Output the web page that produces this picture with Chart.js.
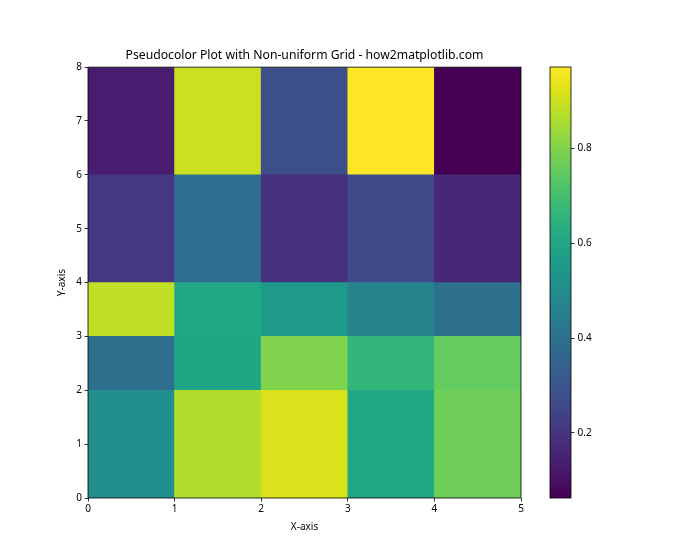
<!DOCTYPE html>
<html><head><meta charset="utf-8">
<script src="https://cdn.jsdelivr.net/npm/chart.js@4/dist/chart.umd.min.js"></script>
<style>
html,body{margin:0;padding:0;background:#fff}
#wrap{position:relative;width:700px;height:560px}
canvas{position:absolute;left:0;top:0}
</style>
</head><body>
<div id="wrap"><canvas id="main" width="700" height="560"></canvas><canvas id="cbar" width="700" height="560"></canvas></div>
<script>
// Grid edges (non-uniform in y)
const xEdges = [0, 1, 2, 3, 4, 5];
const yEdges = [0, 2, 3, 4, 6, 8];
// Cell values, one array per row, bottom row first
const row0 = [0.512, 0.866, 0.917, 0.608, 0.771]; // y 0-2
const row1 = [0.394, 0.599, 0.798, 0.662, 0.753]; // y 2-3
const row2 = [0.885, 0.608, 0.553, 0.467, 0.399]; // y 3-4
const row3 = [0.208, 0.390, 0.190, 0.263, 0.163]; // y 4-6
const row4 = [0.136, 0.898, 0.281, 0.971, 0.063]; // y 6-8
const rows = [row0, row1, row2, row3, row4];
const xTicks = [0, 1, 2, 3, 4, 5];
const yTicks = [0, 1, 2, 3, 4, 5, 6, 7, 8];
const cbTicks = [0.2, 0.4, 0.6, 0.8];
const titleText = 'Pseudocolor Plot with Non-uniform Grid - how2matplotlib.com';
const xLabel = 'X-axis';
const yLabel = 'Y-axis';

// viridis colormap stops
const VIR = ['#440154','#471365','#482475','#463480','#414487','#3b528b','#355f8d','#2f6c8e','#2a788e','#25848e','#21918c','#1e9c89','#22a884','#2fb47c','#44bf70','#5ec962','#7ad151','#9bd93c','#bddf26','#dfe318','#fde725'];
function hex(h){return [parseInt(h.substr(1,2),16),parseInt(h.substr(3,2),16),parseInt(h.substr(5,2),16)];}
function viridis(t){
  t = Math.max(0, Math.min(1, t));
  const p = t * (VIR.length - 1), i = Math.min(VIR.length - 2, Math.floor(p)), f = p - i;
  const a = hex(VIR[i]), b = hex(VIR[i+1]);
  return 'rgb(' + a.map((v,k)=>Math.round(v + (b[k]-v)*f)).join(',') + ')';
}
const all = rows.flat();
const vmin = Math.min(...all), vmax = Math.max(...all);
const norm = v => (v - vmin) / (vmax - vmin);

const FONT = "'Noto Sans', sans-serif";
Chart.defaults.font.family = FONT;
Chart.defaults.font.size = 10;
Chart.defaults.color = '#000';

const frame = {
  id: 'frame',
  afterDraw(chart){
    const a = chart.chartArea, c = chart.ctx;
    c.save(); c.strokeStyle = '#000'; c.lineWidth = 0.8;
    c.strokeRect(a.left, a.top, a.right - a.left, a.bottom - a.top);
    c.restore();
  }
};

const centers = xEdges.slice(0, -1).map((e, i) => (e + xEdges[i+1]) / 2);
const datasets = rows.map((r, ri) => ({
  data: r.map((v, ci) => ({x: centers[ci], y: [yEdges[ri], yEdges[ri+1]]})),
  backgroundColor: r.map(v => viridis(norm(v))),
  borderWidth: 0,
  grouped: false,
  barPercentage: 1,
  categoryPercentage: 1
}));

const tickGrid = {drawOnChartArea: false, drawTicks: true, tickLength: 3.5, color: '#000', lineWidth: 0.8};

new Chart(document.getElementById('main'), {
  type: 'bar',
  data: {datasets},
  options: {
    responsive: false, animation: false, events: [],
    layout: {padding: {left: 0, right: 179, top: 0, bottom: 0}},
    plugins: {
      legend: {display: false}, tooltip: {enabled: false},
      title: {display: true, text: titleText, fullSize: false, color: '#000',
        font: {size: 12.2, weight: 'normal', family: FONT, lineHeight: 1.2},
        padding: {top: 48.5, bottom: 4}}
    },
    scales: {
      x: {type: 'linear', min: xEdges[0], max: xEdges[xEdges.length-1], offset: false,
        grid: Object.assign({offset: false}, tickGrid), border: {display: false},
        afterBuildTicks: s => { s.ticks = xTicks.map(v => ({value: v})); },
        afterFit: s => { s.height = 62; },
        ticks: {padding: 1.5, maxRotation: 0, callback: v => String(v)},
        title: {display: true, text: xLabel, padding: {top: 0, bottom: 27}}
      },
      y: {type: 'linear', min: yEdges[0], max: yEdges[yEdges.length-1],
        grid: tickGrid, border: {display: false},
        afterBuildTicks: s => { s.ticks = yTicks.map(v => ({value: v})); },
        afterFit: s => { s.width = 88; },
        ticks: {padding: 2.5, callback: v => String(v)},
        title: {display: true, text: yLabel, padding: {top: 56, bottom: 0}}
      }
    }
  },
  plugins: [frame]
});

new Chart(document.getElementById('cbar'), {
  type: 'bar',
  data: {labels: ['cb'], datasets: [{
    data: [[vmin, vmax]],
    borderWidth: 0, barPercentage: 1, categoryPercentage: 1,
    backgroundColor: (ctx) => {
      const ch = ctx.chart; if (!ch.chartArea) return '#888';
      const y0 = ch.scales.y.getPixelForValue(vmin), y1 = ch.scales.y.getPixelForValue(vmax);
      const g = ch.ctx.createLinearGradient(0, y0, 0, y1);
      VIR.forEach((c, i) => g.addColorStop(i / (VIR.length - 1), c));
      return g;
    }
  }]},
  options: {
    responsive: false, animation: false, events: [],
    layout: {padding: {left: 550, right: 69, top: 67, bottom: 62}},
    plugins: {legend: {display: false}, tooltip: {enabled: false}, title: {display: false}},
    scales: {
      x: {display: false},
      y: {position: 'right', min: vmin, max: vmax,
        grid: tickGrid, border: {display: false},
        afterBuildTicks: s => { s.ticks = cbTicks.map(v => ({value: v})); },
        afterFit: s => { s.width = 60; },
        ticks: {padding: 3, callback: v => v.toFixed(1)}
      }
    }
  },
  plugins: [frame]
});
</script>
</body></html>
